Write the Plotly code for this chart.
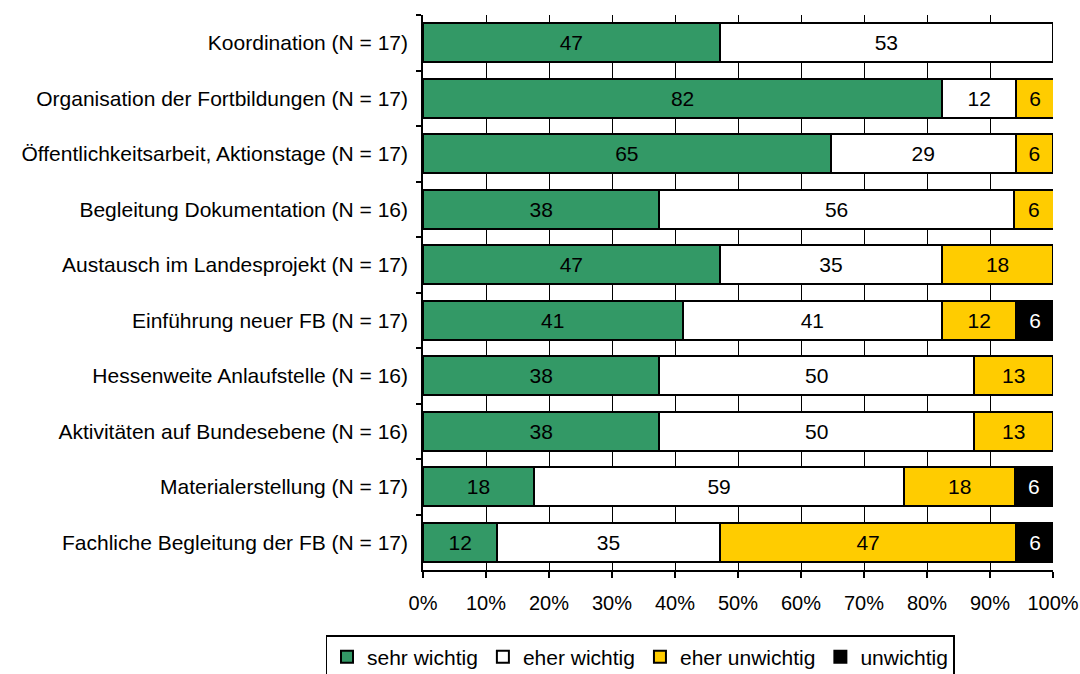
import plotly.graph_objects as go

categories = [
    "Koordination (N = 17)",
    "Organisation der Fortbildungen (N = 17)",
    "Öffentlichkeitsarbeit, Aktionstage (N = 17)",
    "Begleitung Dokumentation (N = 16)",
    "Austausch im Landesprojekt (N = 17)",
    "Einführung neuer FB (N = 17)",
    "Hessenweite Anlaufstelle (N = 16)",
    "Aktivitäten auf Bundesebene (N = 16)",
    "Materialerstellung (N = 17)",
    "Fachliche Begleitung der FB (N = 17)",
]
sehr_wichtig = [47.1, 82.4, 64.7, 37.5, 47.1, 41.2, 37.5, 37.5, 17.6, 11.8]
eher_wichtig = [52.9, 11.8, 29.4, 56.3, 35.3, 41.2, 50.0, 50.0, 58.8, 35.3]
eher_unwichtig = [0, 5.9, 5.9, 6.3, 17.6, 11.8, 12.5, 12.5, 17.6, 47.1]
unwichtig = [0, 0, 0, 0, 0, 5.9, 0, 0, 5.9, 5.9]

series = [
    ("sehr wichtig", sehr_wichtig, "#339966", "black"),
    ("eher wichtig", eher_wichtig, "#FFFFFF", "black"),
    ("eher unwichtig", eher_unwichtig, "#FFCC00", "black"),
    ("unwichtig", unwichtig, "#000000", "white"),
]

FONT = "Liberation Sans, Arial, sans-serif"
FS = 21

fig = go.Figure()
for name, vals, color, tcol in series:
    fig.add_trace(go.Bar(
        name=name,
        y=categories,
        x=vals,
        orientation="h",
        marker=dict(color=color, line=dict(color="black", width=2)),
        text=[str(int(v + 0.5)) if v > 0 else "" for v in vals],
        textposition="inside",
        insidetextanchor="middle",
        textangle=0,
        textfont=dict(color=tcol, size=FS, family=FONT),
        hoverinfo="skip",
    ))

fig.update_layout(
    barmode="stack",
    bargap=0.29,
    width=1080,
    height=674,
    margin=dict(l=423, r=27, t=15, b=104, autoexpand=False),
    paper_bgcolor="white",
    plot_bgcolor="white",
    font=dict(family=FONT, size=FS, color="black"),
    uniformtext=dict(minsize=FS, mode="show"),
    legend=dict(
        orientation="h",
        xref="container",
        yref="container",
        x=640 / 1080,
        xanchor="center",
        y=1 - 635 / 674,
        yanchor="top",
        bordercolor="black",
        borderwidth=1.5,
        font=dict(size=21, family=FONT),
        traceorder="normal",
        itemwidth=30,
        tracegroupgap=0,
    ),
)
fig.update_xaxes(
    range=[0, 100],
    dtick=10,
    tick0=0,
    ticksuffix="%",
    showgrid=True,
    gridcolor="black",
    gridwidth=1,
    showline=True,
    linecolor="black",
    linewidth=1.5,
    ticks="outside",
    ticklen=6,
    tickwidth=1.5,
    tickcolor="black",
    zeroline=False,
    automargin=False,
    ticklabelstandoff=8,
    tickfont=dict(size=20),
)
fig.update_yaxes(
    categoryorder="array",
    categoryarray=categories,
    autorange="reversed",
    showgrid=False,
    showline=True,
    linecolor="black",
    linewidth=1.5,
    ticks="outside",
    tickson="boundaries",
    ticklen=5,
    tickwidth=1.5,
    tickcolor="black",
    automargin=False,
    ticklabelstandoff=9,
    tickfont=dict(size=FS),
)

# remove the default 8px body margin so the 1080x674 figure fills the window
fig.write_html(
    "out.html",
    config={"displayModeBar": False},
    post_script="document.body.style.margin='0';document.body.style.overflow='hidden';",
)
